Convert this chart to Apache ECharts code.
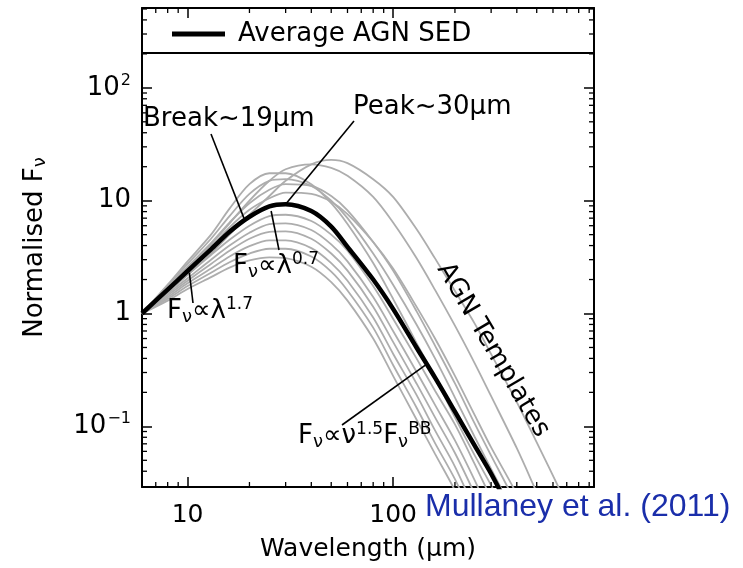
<!DOCTYPE html>
<html>
<head>
<meta charset="utf-8">
<script src="https://cdn.jsdelivr.net/npm/echarts@6/dist/echarts.min.js"></script>
<style>
  html, body { margin: 0; padding: 0; background: #fff; }
  #chart { width: 743px; height: 568px; }
</style>
</head>
<body>
<div id="chart"></div>
<script>
// wavelength grid (micron) shared by all curves
var wavelength = [6, 8, 10, 13, 16, 20, 25, 30, 40, 50, 60, 80, 100, 130, 160, 200, 250, 300, 400, 500, 650, 800];
// average AGN SED (black)
var averageSED = [1, 1.63, 2.38, 3.7, 5.3, 7.2, 8.9, 9.3, 8.1, 5.9, 3.9, 2.0, 1.1, 0.5, 0.27, 0.135, 0.067, 0.038, 0.014, 0.0066, 0.0025, 0.001];
// individual AGN templates (grey)
var templates = [
  [1, 1.55, 2.2, 3.4, 5.0, 7.5, 11, 15, 21, 23, 21.5, 15.5, 10.8, 5.6, 3.08, 1.58, 0.81, 0.436, 0.164, 0.072, 0.027, 0.012],
  [1, 1.65, 2.5, 4.1, 6.3, 10, 15, 19, 21, 19.5, 16.6, 10.8, 6.4, 3.1, 1.62, 0.78, 0.36, 0.185, 0.064, 0.026, 0.009],
  [1, 1.8, 2.9, 5.0, 8.5, 14, 17.5, 17.5, 14, 9.5, 6.2, 2.8, 1.35, 0.55, 0.27, 0.12, 0.055, 0.03, 0.011, 0.005],
  [1, 1.75, 2.75, 4.6, 7.3, 11.5, 15, 15.5, 13.5, 10, 7, 3.4, 1.8, 0.8, 0.4, 0.18, 0.08, 0.042, 0.015, 0.006],
  [1, 1.7, 2.6, 4.2, 6.4, 9.5, 12.5, 14, 13.5, 11, 8.2, 4.3, 2.4, 1.05, 0.52, 0.24, 0.105, 0.055, 0.02, 0.008],
  [1, 1.65, 2.5, 3.9, 5.8, 8.3, 10.5, 11.8, 11.5, 9.8, 7.6, 4.3, 2.5, 1.15, 0.6, 0.28, 0.125, 0.065, 0.025, 0.01],
  [1, 1.55, 2.2, 3.3, 4.5, 6.0, 7.3, 7.5, 6.6, 5.0, 3.6, 1.75, 0.9, 0.4, 0.207, 0.104, 0.046, 0.023, 0.008],
  [1, 1.5, 2.05, 3.0, 4.0, 5.2, 6.2, 6.3, 5.5, 4.1, 2.9, 1.4, 0.7, 0.305, 0.155, 0.075, 0.033, 0.016],
  [1, 1.45, 1.95, 2.75, 3.6, 4.6, 5.3, 5.35, 4.6, 3.4, 2.4, 1.15, 0.56, 0.24, 0.12, 0.058, 0.025, 0.012],
  [1, 1.4, 1.85, 2.5, 3.2, 3.95, 4.45, 4.45, 3.8, 2.8, 1.95, 0.92, 0.44, 0.19, 0.092, 0.044, 0.018],
  [1, 1.35, 1.75, 2.3, 2.85, 3.4, 3.75, 3.75, 3.2, 2.35, 1.6, 0.75, 0.35, 0.147, 0.071, 0.034, 0.014],
  [1, 1.3, 1.65, 2.1, 2.55, 2.95, 3.15, 3.1, 2.6, 1.9, 1.3, 0.6, 0.28, 0.115, 0.057, 0.027, 0.011]
];
// minor tick values (majors come from the axes)
var xMinorTicks = [7, 8, 9, 20, 30, 40, 50, 60, 70, 80, 90, 200, 300, 400, 500, 600, 700, 800, 900];
var yMinorTicks = [0.04, 0.05, 0.06, 0.07, 0.08, 0.09, 0.2, 0.3, 0.4, 0.5, 0.6, 0.7, 0.8, 0.9,
                   2, 3, 4, 5, 6, 7, 8, 9, 20, 30, 40, 50, 60, 70, 80, 90, 200, 300, 400, 500];

var FONT = 'DejaVu Sans';
var GL = 142, GR = 594, GT = 8, GB = 487;

function pairs(arr) {
  var out = [];
  for (var i = 0; i < arr.length; i++) out.push([wavelength[i], arr[i]]);
  return out;
}

function tickSeries(vals, dir) {
  return {
    type: 'custom', silent: true, clip: false, z: 5,
    data: vals.map(function (v) { return dir === 'x' ? [v, 1] : [10, v]; }),
    renderItem: function (params, api) {
      var cs = params.coordSys;
      var p = api.coord([api.value(0), api.value(1)]);
      var L = 5, s = { stroke: '#000', lineWidth: 1.3 };
      if (dir === 'x') {
        return { type: 'group', children: [
          { type: 'line', shape: { x1: p[0], y1: cs.y + cs.height, x2: p[0], y2: cs.y + cs.height - L }, style: s },
          { type: 'line', shape: { x1: p[0], y1: cs.y, x2: p[0], y2: cs.y + L }, style: s }
        ] };
      }
      return { type: 'group', children: [
        { type: 'line', shape: { x1: cs.x, y1: p[1], x2: cs.x + L, y2: p[1] }, style: s },
        { type: 'line', shape: { x1: cs.x + cs.width, y1: p[1], x2: cs.x + cs.width - L, y2: p[1] }, style: s }
      ] };
    }
  };
}

function logOf(v) { return Math.round(Math.log(v) / Math.LN10 * 1000) / 1000; }

var series = [];
templates.forEach(function (t) {
  series.push({
    name: 'AGN Templates', type: 'line', data: pairs(t), symbol: 'none', smooth: 0.3,
    lineStyle: { color: '#adadad', width: 1.8 }, itemStyle: { color: '#adadad' }, z: 2, silent: true
  });
});
series.push({
  name: 'Average AGN SED', type: 'line', data: pairs(averageSED), symbol: 'none', smooth: 0.3,
  lineStyle: { color: '#000', width: 4.5 }, itemStyle: { color: '#000' }, z: 4,
  markLine: {
    silent: true, symbol: 'none', label: { show: false },
    lineStyle: { color: '#000', width: 1.6, type: 'solid' },
    data: [
      [{ coord: [18.8, 7.0] }, { x: 211, y: 134 }],
      [{ coord: [30, 9.3] }, { x: 354, y: 121 }],
      [{ coord: [25.5, 8.1] }, { x: 279, y: 250 }],
      [{ coord: [10.2, 2.3] }, { x: 193, y: 303 }],
      [{ coord: [147, 0.36] }, { x: 342, y: 425 }]
    ]
  }
});
series.push(tickSeries(xMinorTicks, 'x'));
series.push(tickSeries(yMinorTicks, 'y'));

var baseRich = {
  n: { fontSize: 26, fontFamily: FONT, color: '#000' },
  sub: { fontSize: 18, fontFamily: FONT, color: '#000', verticalAlign: 'bottom', padding: [10, 0, 0, 0] },
  sup: { fontSize: 17, fontFamily: FONT, color: '#000', verticalAlign: 'top', padding: [0, 0, 13, 0] }
};

function label(x, y, text, extra) {
  var st = { text: text, rich: baseRich, fill: '#000', font: '26px "' + FONT + '"', verticalAlign: 'middle' };
  return Object.assign({ type: 'text', x: x, y: y, z: 10, style: st }, extra || {});
}

var chart = echarts.init(document.getElementById('chart'));
chart.setOption({
  animation: false,
  backgroundColor: '#fff',
  grid: { left: GL, right: 743 - GR, top: GT, bottom: 568 - GB },
  legend: {
    data: ['Average AGN SED'], left: 167, top: 16, itemWidth: 53, itemHeight: 5,
    icon: 'rect', selectedMode: false,
    textStyle: { fontSize: 26, fontFamily: FONT, color: '#000', padding: [0, 0, 0, 8] }
  },
  xAxis: [{
    type: 'log', logBase: 10, min: 6, max: 950, position: 'bottom',
    name: 'Wavelength (μm)', nameLocation: 'middle', nameGap: 50,
    nameTextStyle: { fontSize: 25, fontFamily: FONT, color: '#000' },
    axisLine: { lineStyle: { color: '#000', width: 2 } },
    axisTick: { inside: true, length: 10, lineStyle: { color: '#000', width: 1.5 } },
    splitLine: { show: false },
    axisLabel: {
      margin: 16, fontSize: 25, fontFamily: FONT, color: '#000',
      formatter: function (v) {
        var l = logOf(v);
        return (l === 1 || l === 2) ? String(Math.round(v)) : '';
      }
    }
  }, {
    type: 'log', logBase: 10, min: 6, max: 950, position: 'top',
    axisLine: { lineStyle: { color: '#000', width: 2 } },
    axisTick: { inside: true, length: 10, lineStyle: { color: '#000', width: 1.5 } },
    axisLabel: { show: false }, splitLine: { show: false }
  }],
  yAxis: [{
    type: 'log', logBase: 10, min: 0.029, max: 510, position: 'left',
    name: 'Normalised F{sub|ν}', nameLocation: 'middle', nameGap: 93, nameRotate: 90,
    nameTextStyle: {
      fontSize: 26, fontFamily: FONT, color: '#000',
      rich: { sub: { fontSize: 18, fontFamily: FONT, color: '#000', verticalAlign: 'bottom', padding: [9, 0, 0, 0] } }
    },
    axisLine: { lineStyle: { color: '#000', width: 2 } },
    axisTick: { inside: true, length: 10, lineStyle: { color: '#000', width: 1.5 } },
    splitLine: { show: false },
    axisLabel: {
      margin: 11, fontSize: 26, fontFamily: FONT, color: '#000',
      rich: { sup: { fontSize: 16, fontFamily: FONT, color: '#000', verticalAlign: 'top', padding: [0, 0, 14, 1] } },
      formatter: function (v) {
        var l = logOf(v);
        if (l === 2) return '10{sup|2}';
        if (l === 1) return '10';
        if (l === 0) return '1';
        if (l === -1) return '10{sup|−1}';
        return '';
      }
    }
  }, {
    type: 'log', logBase: 10, min: 0.029, max: 510, position: 'right',
    axisLine: { lineStyle: { color: '#000', width: 2 } },
    axisTick: { inside: true, length: 10, lineStyle: { color: '#000', width: 1.5 } },
    axisLabel: { show: false }, splitLine: { show: false }
  }],
  series: series,
  graphic: [
    { type: 'line', z: 10, shape: { x1: GL, y1: 53, x2: GR, y2: 53 }, style: { stroke: '#000', lineWidth: 2 } },
    label(143, 119, '{n|Break~19μm}'),
    label(353, 107, '{n|Peak~30μm}'),
    label(233, 266, '{n|F}{sub|ν}{n|∝λ}{sup|0.7}'),
    label(167, 311, '{n|F}{sub|ν}{n|∝λ}{sup|1.7}'),
    label(298, 436, '{n|F}{sub|ν}{n|∝ν}{sup|1.5}{n|F}{sub|ν}{sup|BB}'),
    label(493, 350, '', { rotation: -Math.PI * 59.5 / 180, style: {
      text: '{n|AGN Templates}', rich: baseRich, fill: '#000', align: 'center', verticalAlign: 'middle' } }),
    { type: 'text', x: 425, y: 507, z: 10, style: {
      text: 'Mullaney et al. (2011)', fill: '#1a2eaa', font: '32px "Liberation Sans"', verticalAlign: 'middle' } }
  ]
});
</script>
</body>
</html>
